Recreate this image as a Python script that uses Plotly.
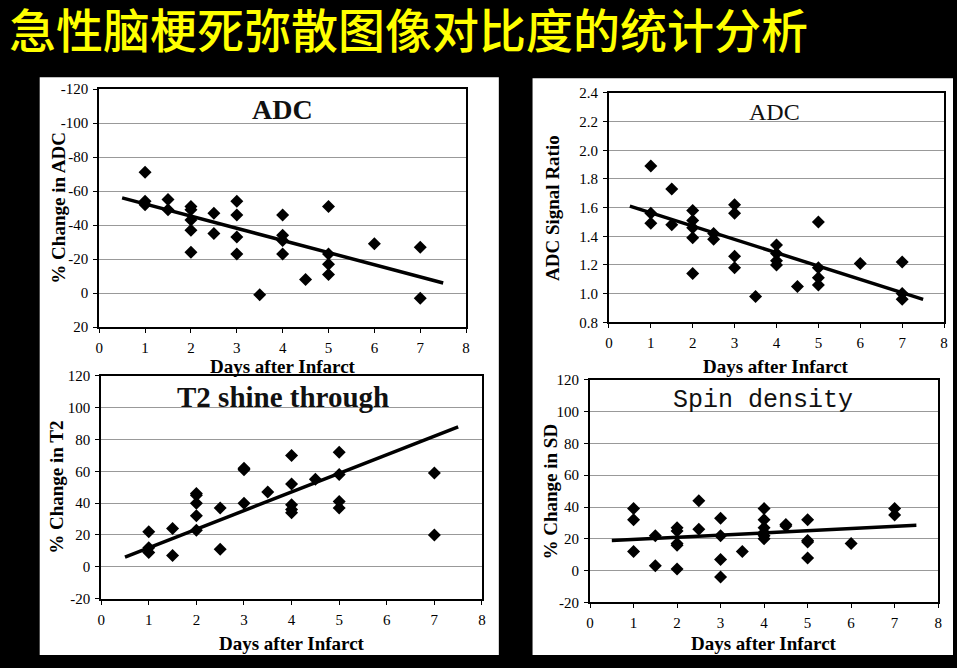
import plotly.graph_objects as go

W, H = 957, 668

# ---------------- data ----------------
title_text = "急性脑梗死弥散图像对比度的统计分析"

# Panel 1: % change in ADC
adc_pct_x = [1, 1, 1, 1.5, 1.5, 2, 2, 2, 2, 2, 2.5, 2.5, 3, 3, 3, 3, 3.5,
             4, 4, 4, 4, 4.5, 5, 5, 5, 5, 6, 7, 7]
adc_pct_y = [-71, -54, -52, -55, -49, -51, -49, -43, -37, -24, -47, -35, -54, -46, -33, -23, 1,
             -46, -34, -31, -23, -8, -51, -23, -17, -11, -29, -27, 3]
adc_pct_fit_x = [0.5, 7.5]
adc_pct_fit_y = [-56, -6]

# Panel 2: ADC signal ratio
adc_ratio_x = [1, 1, 1, 1.5, 1.5, 2, 2, 2, 2, 2, 2.5, 2.5, 3, 3, 3, 3, 3.5,
               4, 4, 4, 4, 4.5, 5, 5, 5, 5, 6, 7, 7, 7]
adc_ratio_y = [1.89, 1.56, 1.49, 1.73, 1.48, 1.58, 1.51, 1.46, 1.39, 1.14, 1.42, 1.38,
               1.62, 1.56, 1.26, 1.18, 0.98, 1.34, 1.28, 1.23, 1.20, 1.05,
               1.50, 1.18, 1.11, 1.06, 1.21, 1.22, 1.00, 0.96]
adc_ratio_fit_x = [0.5, 7.5]
adc_ratio_fit_y = [1.61, 0.96]

# Panel 3: % change in T2
t2_x = [1, 1, 1, 1.5, 1.5, 2, 2, 2, 2, 2, 2.5, 2.5, 3, 3, 3, 3.5,
        4, 4, 4, 4, 4, 4.5, 5, 5, 5, 5, 7, 7]
t2_y = [22, 12, 9, 24, 7, 46, 45, 40, 32, 23, 37, 11, 62, 61, 40, 47,
        70, 52, 39, 36, 34, 55, 72, 58, 41, 37, 59, 20]
t2_fit_x = [0.5, 7.5]
t2_fit_y = [6, 88]

# Panel 4: % change in spin density
sd_x = [1, 1, 1, 1.5, 1.5, 2, 2, 2, 2, 2, 2.5, 2.5, 3, 3, 3, 3, 3.5,
        4, 4, 4, 4, 4, 4, 4.5, 4.5, 5, 5, 5, 5, 6, 7, 7]
sd_y = [39, 32, 12, 22, 3, 27, 25, 17, 16, 1, 44, 26, 33, 22, 7, -4, 12,
        39, 32, 27, 24, 22, 20, 29, 28, 32, 19, 18, 8, 17, 39, 35]
sd_fit_x = [0.5, 7.5]
sd_fit_y = [19, 28.5]

x_ticks = [0, 1, 2, 3, 4, 5, 6, 7, 8]
adc_pct_ticks = [-120, -100, -80, -60, -40, -20, 0, 20]
adc_ratio_ticks = [0.8, 1.0, 1.2, 1.4, 1.6, 1.8, 2.0, 2.2, 2.4]
pct_ticks = [-20, 0, 20, 40, 60, 80, 100, 120]

# ---------------- helpers ----------------
def px_x(p):
    return p / W

def px_y(p):
    return 1 - p / H

SERIF = "Liberation Serif"

fig = go.Figure()

panels = [
    dict(x=adc_pct_x, y=adc_pct_y, fx=adc_pct_fit_x, fy=adc_pct_fit_y,
         dom=(96, 466, 83, 327), yr=[20, -120], yt=adc_pct_ticks,
         ytt=[str(v) for v in adc_pct_ticks], ytitle="% Change in ADC", ytx=55,
         xtitle_y=367, title="ADC", tx=281, ty=104,
         tfont=dict(family=SERIF, size=28, color="#111"), tbold=True),
    dict(x=adc_ratio_x, y=adc_ratio_y, fx=adc_ratio_fit_x, fy=adc_ratio_fit_y,
         dom=(610, 948, 87, 322), yr=[0.8, 2.4], yt=adc_ratio_ticks,
         ytt=["%.1f" % v for v in adc_ratio_ticks], ytitle="ADC Signal Ratio", ytx=553,
         xtitle_y=367, title="ADC", tx=777, ty=107,
         tfont=dict(family=SERIF, size=24, color="#111"), tbold=False),
    dict(x=t2_x, y=t2_y, fx=t2_fit_x, fy=t2_fit_y,
         dom=(98, 482, 377, 605), yr=[-20, 120], yt=pct_ticks,
         ytt=[str(v) for v in pct_ticks], ytitle="% Change in T2", ytx=53,
         xtitle_y=651, title="T2 shine through", tx=281, ty=399,
         tfont=dict(family=SERIF, size=29, color="#111"), tbold=True),
    dict(x=sd_x, y=sd_y, fx=sd_fit_x, fy=sd_fit_y,
         dom=(591, 942, 381, 609), yr=[-20, 120], yt=pct_ticks,
         ytt=[str(v) for v in pct_ticks], ytitle="% Change in SD", ytx=551,
         xtitle_y=651, title="Spin density", tx=765, ty=402,
         tfont=dict(family="Liberation Mono", size=25, color="#111"), tbold=False),
]

shapes = [
    dict(type="rect", xref="paper", yref="paper", x0=px_x(36), x1=px_x(499),
         y0=px_y(663), y1=px_y(71), fillcolor="white", line=dict(width=0), layer="below"),
    dict(type="rect", xref="paper", yref="paper", x0=px_x(533), x1=1,
         y0=px_y(663), y1=px_y(72), fillcolor="white", line=dict(width=0), layer="below"),
]
annotations = [
    dict(text=title_text, x=px_x(4), y=px_y(20), xref="paper", yref="paper",
         xanchor="left", yanchor="middle", showarrow=False, borderpad=0,
         font=dict(family="Noto Sans CJK SC", size=47, color="#FFFF00", weight=500)),
]

for i, p in enumerate(panels, start=1):
    xa = "x" if i == 1 else f"x{i}"
    ya = "y" if i == 1 else f"y{i}"
    x0, x1, y0, y1 = p["dom"]
    fig.add_trace(go.Scatter(x=p["fx"], y=p["fy"], mode="lines",
                             line=dict(color="black", width=3.5),
                             xaxis=xa, yaxis=ya, showlegend=False, hoverinfo="skip"))
    fig.add_trace(go.Scatter(x=p["x"], y=p["y"], mode="markers",
                             marker=dict(symbol="diamond", size=10, color="black"),
                             xaxis=xa, yaxis=ya, showlegend=False))
    common = dict(showline=True, linecolor="black", linewidth=2, mirror=True,
                  ticks="outside", tickcolor="black", ticklen=4, tickwidth=1,
                  tickfont=dict(family=SERIF, size=15, color="black"), zeroline=False)
    fig.layout[("xaxis" if i == 1 else f"xaxis{i}")] = dict(
        domain=[px_x(x0), px_x(x1)], range=[0, 8], tickvals=x_ticks,
        ticktext=[str(v) for v in x_ticks], showgrid=False, anchor=ya,
        ticklabelstandoff=2, **common)
    fig.layout[("yaxis" if i == 1 else f"yaxis{i}")] = dict(
        domain=[px_y(y1), px_y(y0)], range=p["yr"], tickvals=p["yt"],
        ticktext=p["ytt"], showgrid=True, gridcolor="#999999", gridwidth=1,
        anchor=xa, ticklabelstandoff=2, **common)
    annotations.append(dict(text="<b>" + p["ytitle"] + "</b>", textangle=-90,
                            x=px_x(p["ytx"]), y=px_y((y0 + y1) / 2), xref="paper", yref="paper",
                            showarrow=False, xanchor="center", yanchor="middle",
                            font=dict(family=SERIF, size=19, color="black")))
    annotations.append(dict(text="<b>Days after Infarct</b>",
                            x=px_x((x0 + x1) / 2), y=px_y(p["xtitle_y"]), xref="paper", yref="paper",
                            showarrow=False, xanchor="center", yanchor="middle",
                            font=dict(family=SERIF, size=19, color="black")))
    t = p["title"]
    if p["tbold"]:
        t = "<b>" + t + "</b>"
    annotations.append(dict(text=t, x=px_x(p["tx"]), y=px_y(p["ty"]), xref="paper", yref="paper",
                            showarrow=False, xanchor="center", yanchor="middle",
                            font=p["tfont"]))

fig.update_layout(width=W, height=H, margin=dict(l=0, r=0, t=0, b=0),
                  paper_bgcolor="black", plot_bgcolor="white",
                  shapes=shapes, annotations=annotations)

fig.write_html("out.html")
